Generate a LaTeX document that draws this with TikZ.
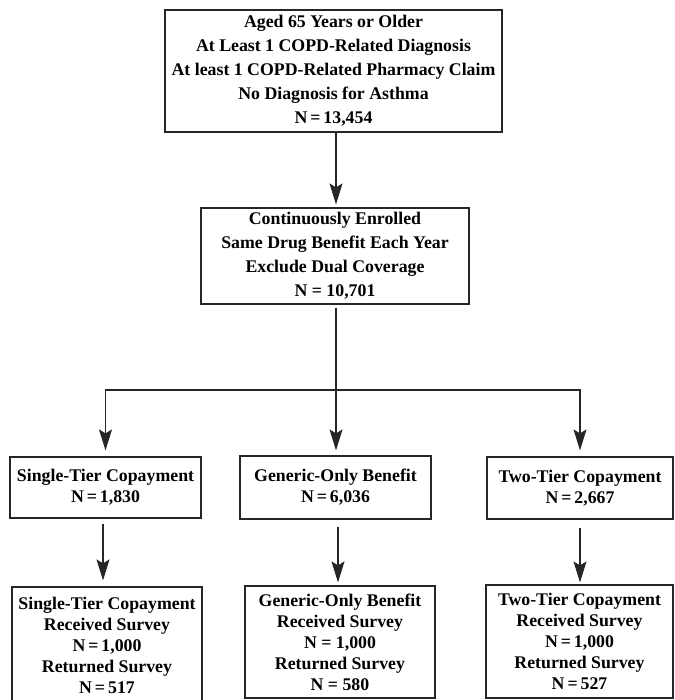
\documentclass[tikz,border=0pt]{standalone}
\usepackage{fontspec}
\setmainfont{Liberation Serif}
\usetikzlibrary{arrows.meta}
\begin{document}
\begin{tikzpicture}[x=1pt,y=-1pt,
  box/.style={draw=black!85, line width=1.2pt, inner sep=0pt, align=center, font=\bfseries\fontsize{17.8}{24}\selectfont},
  sbox/.style={box, font=\bfseries\fontsize{17.8}{21}\selectfont},
  arr/.style={draw=black!85, line width=1.1pt, -{Stealth[length=21pt,width=13pt,inset=4pt]}},
  ln/.style={draw=black!85, line width=1.1pt}]
\useasboundingbox (0,0) rectangle (674,700);
\node[box, minimum width=337pt, minimum height=122pt] (top) at (333.5,71)
  {Aged 65 Years or Older\\At Least 1 COPD-Related Diagnosis\\At least 1 COPD-Related Pharmacy Claim\\No Diagnosis for Asthma\\N\,=\,13,454};
\node[box, minimum width=268pt, minimum height=96pt] (second) at (335,256)
  {Continuously Enrolled\\Same Drug Benefit Each Year\\Exclude Dual Coverage\\N = 10,701};
\node[sbox, minimum width=191pt, minimum height=61pt] (midL) at (105.5,487.5)
  {Single-Tier Copayment\\N\,=\,1,830};
\node[sbox, minimum width=191pt, minimum height=63pt] (midM) at (335.5,487.5)
  {Generic-Only Benefit\\N\,=\,6,036};
\node[sbox, minimum width=186pt, minimum height=62pt] (midR) at (580,488)
  {Two-Tier Copayment\\N\,=\,2,667};
\node[sbox, minimum width=190pt, minimum height=116pt] (botL) at (107,645)
  {Single-Tier Copayment\\Received Survey\\N\,=\,1,000\\Returned Survey\\N\,=\,517};
\node[sbox, minimum width=190pt, minimum height=112pt] (botM) at (340,642)
  {Generic-Only Benefit\\Received Survey\\N = 1,000\\Returned Survey\\N = 580};
\node[sbox, minimum width=187pt, minimum height=113pt] (botR) at (579.5,641.5)
  {Two-Tier Copayment\\Received Survey\\N\,=\,1,000\\Returned Survey\\N\,=\,527};
\coordinate (j) at (336,390);
\draw[arr, shorten >=3pt] (top.south -| j) -- (second.north -| j);
\draw[ln, shorten <=3pt] (second.south -| j) -- (j);
\draw[arr, shorten >=6pt] (j) -| (midL.north);
\draw[arr, shorten >=6pt] (j) -| (midR.north);
\draw[arr, shorten >=5pt] (j) -- (j |- midM.north);
\draw[arr, shorten <=5pt, shorten >=6pt] (midL.south -| 103,0) -- (botL.north -| 103,0);
\draw[arr, shorten <=7pt, shorten >=3pt] (midM.south -| 338,0) -- (botM.north -| 338,0);
\draw[arr, shorten <=8pt, shorten >=2pt] (midR.south) -- (botR.north -| midR.south);
\end{tikzpicture}
\end{document}
